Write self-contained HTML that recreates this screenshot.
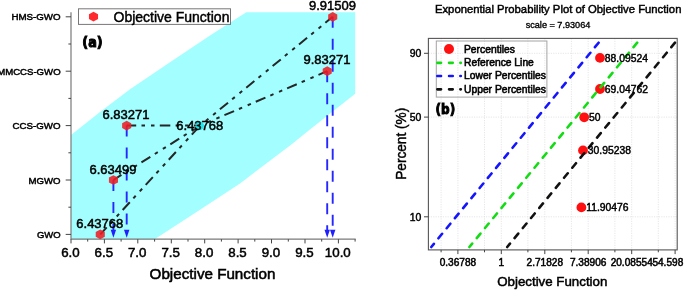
<!DOCTYPE html><html><head><meta charset="utf-8"><title>Objective Function</title>
<style>html,body{margin:0;padding:0;background:#fff}svg{display:block}text{font-family:"Liberation Sans",sans-serif;fill:#000;stroke:#000;stroke-width:0.35px}.b{font-family:"DejaVu Sans","Liberation Sans",sans-serif;font-weight:bold;stroke-width:1px}</style></head><body>
<svg width="685" height="290" viewBox="0 0 685 290">
<rect width="685" height="290" fill="#fff"/>
<polygon fill="#a3ffff" points="71.0,134.9 100.0,112.0 130.0,89.3 170.0,62.2 210.0,35.6 246.3,12.2 355.2,12.2 355.2,93.8 309.3,130.0 292.0,144.0 240.0,183.4 200.0,209.8 154.6,239.2 71.0,239.2"/>
<g stroke="#7a7a7a" stroke-width="1.2" fill="none">
<path d="M71.0 12.2V239.2H355.7"/>
</g>
<g stroke="#444" stroke-width="1" fill="none">
<path d="M65.7 16.8H71.0"/>
<path d="M65.7 71.2H71.0"/>
<path d="M65.7 125.6H71.0"/>
<path d="M65.7 180.0H71.0"/>
<path d="M65.7 234.4H71.0"/>
<path d="M68.4 44.0H71.0"/>
<path d="M68.4 98.4H71.0"/>
<path d="M68.4 152.8H71.0"/>
<path d="M68.4 207.2H71.0"/>
<path d="M71.0 239.2v4.2"/>
<path d="M87.7 239.2v2.4"/>
<path d="M104.4 239.2v4.2"/>
<path d="M121.1 239.2v2.4"/>
<path d="M137.8 239.2v4.2"/>
<path d="M154.6 239.2v2.4"/>
<path d="M171.3 239.2v4.2"/>
<path d="M188.0 239.2v2.4"/>
<path d="M204.7 239.2v4.2"/>
<path d="M221.4 239.2v2.4"/>
<path d="M238.1 239.2v4.2"/>
<path d="M254.8 239.2v2.4"/>
<path d="M271.5 239.2v4.2"/>
<path d="M288.3 239.2v2.4"/>
<path d="M305.0 239.2v4.2"/>
<path d="M321.7 239.2v2.4"/>
<path d="M338.4 239.2v4.2"/>
<path d="M355.1 239.2v2.4"/>
</g>
<text x="70.4" y="256.9" font-size="13.3" text-anchor="middle" style="stroke-width:0.5px">6.0</text>
<text x="103.8" y="256.9" font-size="13.3" text-anchor="middle" style="stroke-width:0.5px">6.5</text>
<text x="137.2" y="256.9" font-size="13.3" text-anchor="middle" style="stroke-width:0.5px">7.0</text>
<text x="170.7" y="256.9" font-size="13.3" text-anchor="middle" style="stroke-width:0.5px">7.5</text>
<text x="204.1" y="256.9" font-size="13.3" text-anchor="middle" style="stroke-width:0.5px">8.0</text>
<text x="237.5" y="256.9" font-size="13.3" text-anchor="middle" style="stroke-width:0.5px">8.5</text>
<text x="270.9" y="256.9" font-size="13.3" text-anchor="middle" style="stroke-width:0.5px">9.0</text>
<text x="304.4" y="256.9" font-size="13.3" text-anchor="middle" style="stroke-width:0.5px">9.5</text>
<text x="337.8" y="256.9" font-size="13.3" text-anchor="middle" style="stroke-width:0.5px">10.0</text>
<text x="60.6" y="20.3" font-size="9.9" style="stroke-width:0.5px" text-anchor="end" textLength="49.2" lengthAdjust="spacingAndGlyphs">HMS-GWO</text>
<text x="60.6" y="74.7" font-size="9.9" style="stroke-width:0.5px" text-anchor="end" textLength="63.4" lengthAdjust="spacingAndGlyphs">MMCCS-GWO</text>
<text x="60.6" y="129.1" font-size="9.9" style="stroke-width:0.5px" text-anchor="end" textLength="48.0" lengthAdjust="spacingAndGlyphs">CCS-GWO</text>
<text x="60.6" y="183.5" font-size="9.9" style="stroke-width:0.5px" text-anchor="end" textLength="32.0" lengthAdjust="spacingAndGlyphs">MGWO</text>
<text x="60.6" y="237.9" font-size="9.9" style="stroke-width:0.5px" text-anchor="end" textLength="23.7" lengthAdjust="spacingAndGlyphs">GWO</text>
<text x="212.5" y="279.4" font-size="15.2" text-anchor="middle" style="stroke-width:0.55px">Objective Function</text>
<g stroke="#2626ff" stroke-width="1.9" fill="none" stroke-dasharray="11 11">
<path d="M113.4 180.0V233"/>
<path d="M126.7 125.6V233"/>
<path d="M327.2 71.2V233"/>
<path d="M332.7 16.8V233"/>
</g>
<g fill="#2020ff">
<path d="M110.7 229.8h5.4L113.4 237.8z"/>
<path d="M124.0 229.8h5.4L126.7 237.8z"/>
<path d="M324.5 229.8h5.4L327.2 237.8z"/>
<path d="M330.0 229.8h5.4L332.7 237.8z"/>
</g>
<g stroke="#262626" stroke-width="2" fill="none" stroke-dasharray="10.5 5.3 3.5 6 3.5 5.3" stroke-dashoffset="1">
<path d="M100.3 234.4L200.1 125.6"/>
<path d="M113.4 180.0L200.1 125.6"/>
<path d="M126.7 125.6L200.1 125.6"/>
<path d="M327.2 71.2L200.1 125.6"/>
<path d="M332.7 16.8L200.1 125.6"/>
</g>
<circle cx="199.8" cy="125.8" r="4.2" fill="#1eeaee"/>
<g fill="#ee1c24" fill-opacity="0.88">
<polygon points="100.26,229.55 95.72,231.97 95.72,236.83 100.26,239.25 104.80,236.83 104.80,231.97"/>
<polygon points="113.45,175.15 108.91,177.57 108.91,182.43 113.45,184.85 117.99,182.43 117.99,177.57"/>
<polygon points="126.67,120.75 122.13,123.17 122.13,128.03 126.67,130.45 131.20,128.03 131.20,123.17"/>
<polygon points="327.22,66.35 322.68,68.78 322.68,73.62 327.22,76.05 331.75,73.62 331.75,68.78"/>
<polygon points="332.72,11.95 328.19,14.38 328.19,19.23 332.72,21.65 337.26,19.23 337.26,14.38"/>
</g>
<text x="99.8" y="227.8" font-size="13" text-anchor="middle" style="stroke-width:0.5px">6.43768</text>
<text x="113" y="173.5" font-size="13" text-anchor="middle" style="stroke-width:0.5px">6.63499</text>
<text x="126" y="118.8" font-size="13" text-anchor="middle" style="stroke-width:0.5px">6.83271</text>
<text x="327" y="64" font-size="13" text-anchor="middle" style="stroke-width:0.5px">9.83271</text>
<text x="332.5" y="10" font-size="13" text-anchor="middle" style="stroke-width:0.5px">9.91509</text>
<text x="199.8" y="130.3" font-size="13" text-anchor="middle" style="stroke-width:0.5px">6.43768</text>
<rect x="78.5" y="8.8" width="152" height="15.6" fill="#fff" stroke="#777" stroke-width="1"/>
<g fill="#ff2a2e"><polygon points="93.50,11.85 88.96,14.28 88.96,19.12 93.50,21.55 98.04,19.12 98.04,14.27"/></g>
<text x="113.5" y="21.7" font-size="14" style="stroke-width:0.45px">Objective Function</text>
<text class="b" x="82.3" y="46.5" font-size="14" textLength="20.3" lengthAdjust="spacingAndGlyphs">(a)</text>
<rect x="428.4" y="38.4" width="248.8" height="211.5" fill="#fff" stroke="none"/>
<g stroke="#e0e0e0" stroke-width="0.8" stroke-dasharray="1.2 1.2" fill="none">
<path d="M457.9 38.4V249.9"/>
<path d="M501.3 38.4V249.9"/>
<path d="M544.8 38.4V249.9"/>
<path d="M588.2 38.4V249.9"/>
<path d="M631.7 38.4V249.9"/>
<path d="M675.1 38.4V249.9"/>
<path d="M441.1 38.4V249.9"/>
<path d="M484.5 38.4V249.9"/>
<path d="M527.9 38.4V249.9"/>
<path d="M571.4 38.4V249.9"/>
<path d="M614.9 38.4V249.9"/>
<path d="M658.3 38.4V249.9"/>
<path d="M428.4 53.3H677.2"/>
<path d="M428.4 117.1H677.2"/>
<path d="M428.4 216.8H677.2"/>
</g>
<circle cx="600" cy="57.9" r="4.9" fill="#ff0f0f"/>
<circle cx="600" cy="89" r="4.9" fill="#ff0f0f"/>
<circle cx="584.2" cy="117.3" r="4.9" fill="#ff0f0f"/>
<circle cx="583" cy="150.4" r="4.9" fill="#ff0f0f"/>
<circle cx="581.4" cy="207.4" r="4.9" fill="#ff0f0f"/>
<path d="M598.6 42.7L431.3 247" stroke="#1414ff" stroke-width="2.6" stroke-linecap="round" stroke-dasharray="5.8 7.2" fill="none"/>
<path d="M637.2 42.7L469.4 247" stroke="#14dc14" stroke-width="2.6" stroke-linecap="round" stroke-dasharray="5.8 7.2" fill="none"/>
<path d="M675.0 42.7L507.2 247" stroke="#111" stroke-width="2.6" stroke-linecap="round" stroke-dasharray="5.8 7.2" fill="none"/>
<rect x="428.4" y="38.4" width="248.8" height="211.5" fill="none" stroke="#555" stroke-width="1.1"/>
<g stroke="#444" stroke-width="1" fill="none">
<path d="M457.9 249.9v4.2"/>
<path d="M501.3 249.9v4.2"/>
<path d="M544.8 249.9v4.2"/>
<path d="M588.2 249.9v4.2"/>
<path d="M631.7 249.9v4.2"/>
<path d="M675.1 249.9v4.2"/>
<path d="M441.1 249.9v2.4"/>
<path d="M484.5 249.9v2.4"/>
<path d="M527.9 249.9v2.4"/>
<path d="M571.4 249.9v2.4"/>
<path d="M614.9 249.9v2.4"/>
<path d="M658.3 249.9v2.4"/>
<path d="M424.0 53.3H428.4"/>
<path d="M424.0 117.1H428.4"/>
<path d="M424.0 216.8H428.4"/>
</g>
<text x="421.3" y="57.0" font-size="10.4" style="stroke-width:0.45px" text-anchor="end">90</text>
<text x="421.3" y="120.8" font-size="10.4" style="stroke-width:0.45px" text-anchor="end">50</text>
<text x="421.3" y="220.5" font-size="10.4" style="stroke-width:0.45px" text-anchor="end">10</text>
<text x="457.9" y="265.8" font-size="10.1" text-anchor="middle" style="stroke-width:0.5px">0.36788</text>
<text x="501.3" y="265.8" font-size="10.1" text-anchor="middle" style="stroke-width:0.5px">1</text>
<text x="544.8" y="265.8" font-size="10.1" text-anchor="middle" style="stroke-width:0.5px">2.71828</text>
<text x="588.2" y="265.8" font-size="10.1" text-anchor="middle" style="stroke-width:0.5px">7.38906</text>
<text x="631.7" y="265.8" font-size="10.1" text-anchor="middle" style="stroke-width:0.5px">20.08554</text>
<text x="652.4" y="265.8" font-size="10.1" style="stroke-width:0.5px">54.598</text>
<text x="552.3" y="285.8" font-size="13.3" text-anchor="middle" style="stroke-width:0.5px">Objective Function</text>
<text transform="translate(405.5 143.8) rotate(-90)" font-size="15" text-anchor="middle" textLength="72" lengthAdjust="spacingAndGlyphs" style="stroke-width:0.45px">Percent (%)</text>
<text x="558.2" y="13.3" font-size="11.3" style="stroke-width:0.45px" text-anchor="middle" textLength="246.5" lengthAdjust="spacingAndGlyphs">Exponential Probability Plot of Objective Function</text>
<text x="558" y="27.5" font-size="9.15" text-anchor="middle">scale = 7.93064</text>
<text x="604.8" y="61.6" font-size="10.35" style="stroke-width:0.45px">88.09524</text>
<text x="604.8" y="92.7" font-size="10.35" style="stroke-width:0.45px">69.04762</text>
<text x="589.0" y="121.0" font-size="10.35" style="stroke-width:0.45px">50</text>
<text x="587.8" y="154.1" font-size="10.35" style="stroke-width:0.45px">30.95238</text>
<text x="586.1999999999999" y="211.1" font-size="10.35" style="stroke-width:0.45px">11.90476</text>
<rect x="436.3" y="41" width="110.6" height="56.1" fill="none" stroke="#a4a4a4" stroke-width="1"/>
<circle cx="449" cy="49" r="5" fill="#ff0f0f"/>
<path d="M437.4 62.8H441M449.1 62.8H452.7M460.4 62.8h0.4" stroke="#14dc14" stroke-width="2.7" stroke-linecap="round" fill="none"/>
<path d="M437.4 76.0H441M449.1 76.0H452.7M460.4 76.0h0.4" stroke="#1414ff" stroke-width="2.7" stroke-linecap="round" fill="none"/>
<path d="M437.4 89.3H441M449.1 89.3H452.7M460.4 89.3h0.4" stroke="#111" stroke-width="2.7" stroke-linecap="round" fill="none"/>
<text x="464" y="52.5" font-size="10.3" style="stroke-width:0.55px">Percentiles</text>
<text x="464" y="66.1" font-size="10.3" style="stroke-width:0.55px">Reference Line</text>
<text x="464" y="79.3" font-size="10.3" style="stroke-width:0.55px">Lower Percentiles</text>
<text x="464" y="92.6" font-size="10.3" style="stroke-width:0.55px">Upper Percentiles</text>
<text class="b" x="435.6" y="113.6" font-size="14" textLength="19.6" lengthAdjust="spacingAndGlyphs">(b)</text>
</svg></body></html>
